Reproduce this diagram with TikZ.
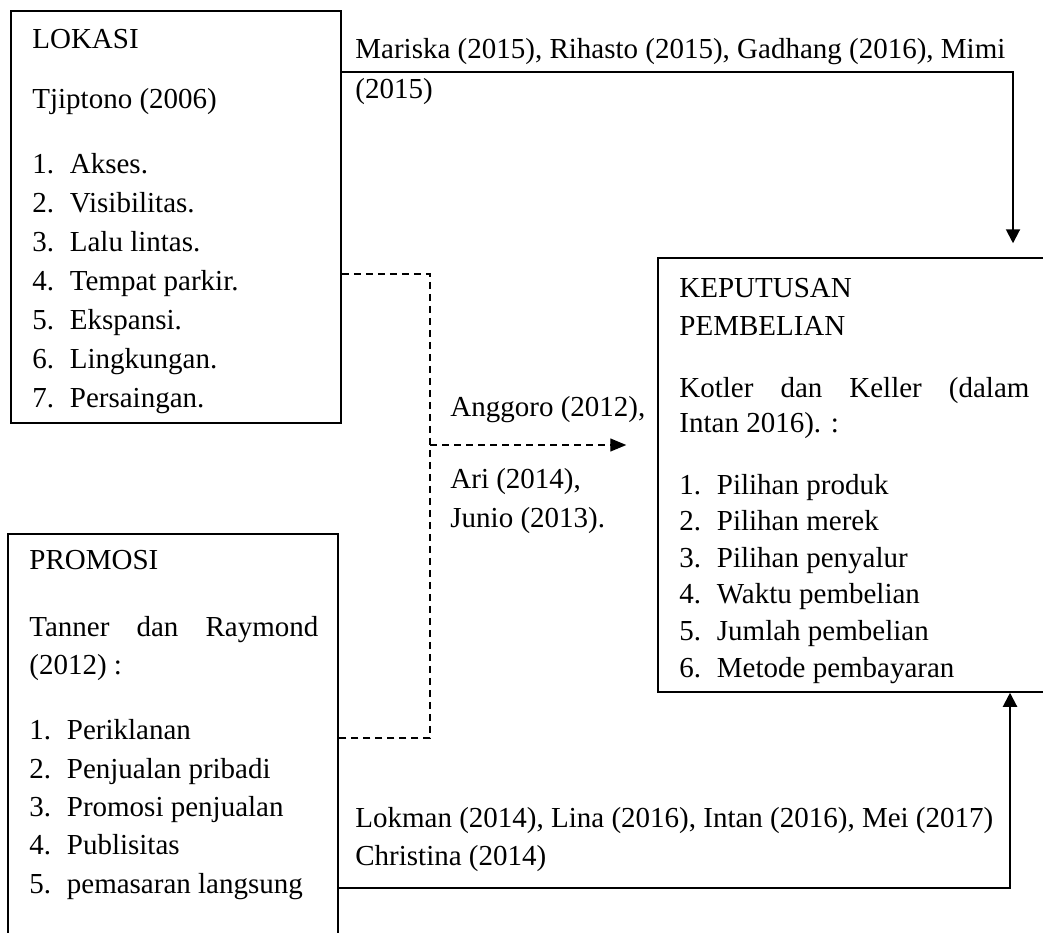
\documentclass[tikz,border=0pt]{standalone}
\usepackage{fontspec}
\setmainfont{Liberation Serif}
\usetikzlibrary{arrows.meta}
\newcommand{\itm}[2]{\makebox[18.75pt][l]{#1.}#2}

\begin{document}
\begin{tikzpicture}[x=0.5pt, y=-0.5pt,
  frame/.style={draw, line width=0.75pt, inner sep=0pt},
  body/.style={anchor=base west, align=left, inner sep=0pt},
  solidarrow/.style={-{Triangle[length=7pt,width=7pt]}, line width=1pt},
  dashline/.style={dash pattern=on 3.5pt off 2.5pt, line width=0.65pt},
  dasharrow/.style={dashline, -{Triangle[length=8pt,width=6.5pt]}}]
\useasboundingbox (0,0) rectangle (1043,932);
\clip (0,0) rectangle (1043,932);
% boxes
\node[frame, minimum width=165pt, minimum height=206pt] (lokasi) at (176,217) {};
\node[frame, minimum width=165pt, minimum height=214pt] (promosi) at (173,748) {};
\node[frame, minimum width=194pt, minimum height=217pt] (keputusan) at (852,475) {};
% box texts
\node[body, font=\fontsize{14.5}{19.5}\selectfont] (lokasitext) at (32,407) {LOKASI\\[10.5pt]
  Tjiptono (2006)\\[13pt]
  \itm{1}{Akses.}\\ \itm{2}{Visibilitas.}\\ \itm{3}{Lalu lintas.}\\
  \itm{4}{Tempat parkir.}\\ \itm{5}{Ekspansi.}\\ \itm{6}{Lingkungan.}\\
  \itm{7}{Persaingan.}};
\node[body, font=\fontsize{14.5}{19.15}\selectfont] (promositext) at (29,893) {PROMOSI\\[14.35pt]
  \makebox[144.5pt][s]{Tanner dan Raymond}\\ (2012) :\\[13.35pt]
  \itm{1}{Periklanan}\\ \itm{2}{Penjualan pribadi}\\ \itm{3}{Promosi penjualan}\\
  \itm{4}{Publisitas}\\ \itm{5}{pemasaran langsung}};
\begin{scope}
\clip (658,258) rectangle (1043,683);
\node[body, font=\fontsize{14.5}{18.3}\selectfont] (keputusantext) at (679,677) {KEPUTUSAN\\[0.7pt]
  PEMBELIAN\\[12.7pt]
  \makebox[175pt][s]{Kotler dan Keller (dalam}\\[-0.8pt] Intan 2016). :\\[12.7pt]
  \itm{1}{Pilihan produk}\\ \itm{2}{Pilihan merek}\\ \itm{3}{Pilihan penyalur}\\
  \itm{4}{Waktu pembelian}\\ \itm{5}{Jumlah pembelian}\\ \itm{6}{Metode pembayaran}};
\end{scope}
% connector labels
\node[body, font=\fontsize{14.5}{20}\selectfont] (mariska) at (355,98) {Mariska (2015), Rihasto (2015), Gadhang (2016), Mimi\\ (2015)};
\node[body, font=\fontsize{14.5}{19.5}\selectfont] (anggoro) at (450,527) {Anggoro (2012),\\[16.5pt] Ari (2014),\\ Junio (2013).};
\node[body, font=\fontsize{14.5}{19}\selectfont] (lokman) at (355,865) {Lokman (2014), Lina (2016), Intan (2016), Mei (2017)\\ Christina (2014)};
% connectors
\coordinate (topbend) at (1013,72);
\coordinate (botbend) at (1010,888);
\coordinate (dashtop) at (430,274);
\coordinate (dashbot) at (430,738);
\coordinate (dashjoin) at (430,445);
\draw[solidarrow, shorten >=7pt] (lokasi.east |- topbend) -- (topbend) -- (keputusan.north -| topbend);
\draw[solidarrow] (promosi.east |- botbend) -- (botbend) -- (keputusan.south -| botbend);
\draw[dashline] (lokasi.east |- dashtop) -- (dashtop) -- (dashbot) -- (promosi.east |- dashbot);
\draw[dasharrow, shorten >=15.5pt] (dashjoin) -- (keputusan.west |- dashjoin);
\end{tikzpicture}
\end{document}
